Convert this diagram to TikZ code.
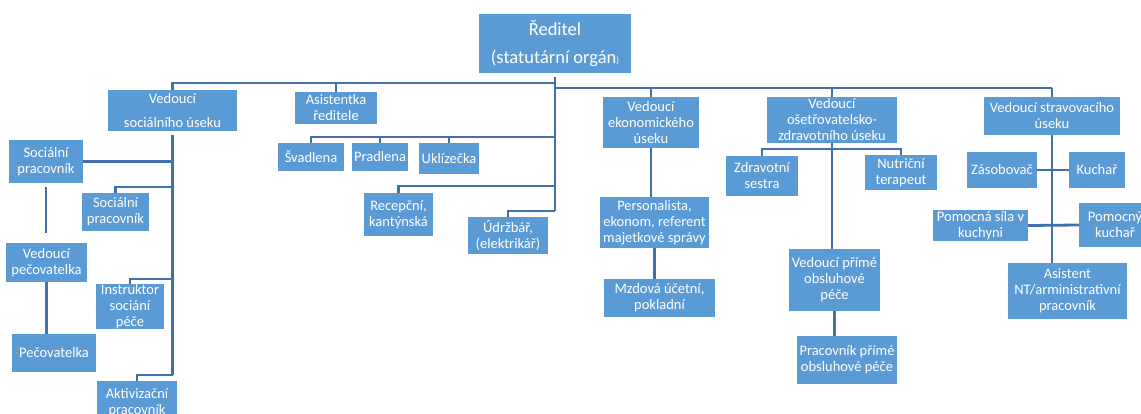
\documentclass[tikz,border=0pt]{standalone}
\usepackage{fontspec}
\setmainfont{Carlito}
\definecolor{boxblue}{RGB}{91,155,213}
\definecolor{lineblue}{RGB}{66,112,172}
\tikzset{
    box/.style={fill=boxblue, text=white, align=center, inner sep=0pt,
        font=\fontsize{14.5}{16}\selectfont},
    conn/.style={draw=lineblue, line width=2.8pt}
}
%% okénko: jméno, levý, horní, pravý, dolní okraj, text
\newcommand{\orgbox}[6]{%
    \pgfmathsetmacro{\bxcx}{(#2+#4)/2}%
    \pgfmathsetmacro{\bxcy}{(#3+#5)/2}%
    \pgfmathsetmacro{\bxw}{#4-#2}%
    \pgfmathsetmacro{\bxh}{#5-#3}%
    \node[box, minimum width=\bxw pt, minimum height=\bxh pt] (#1) at (\bxcx,\bxcy) {#6};%
}
\begin{document}
\begin{tikzpicture}[x=1pt, y=-1pt]
    \useasboundingbox (0,0) rectangle (1141,414);
    %% vedení organizace
    \node[box, minimum width=152pt, minimum height=59pt,
        font=\fontsize{18.5}{22}\selectfont] (red) at (555,43.5)
        {Ředitel\\[6pt](statutární orgán{\fontsize{9}{9}\selectfont)}};
    \orgbox{soc}{108}{90}{237}{131}{Vedoucí\\[8pt]sociálního úseku}
    \orgbox{asis}{295}{92}{377}{124}{Asistentka\\ředitele}
    \orgbox{ekon}{603}{97}{699}{148}{Vedoucí\\ekonomického\\úseku}
    \orgbox{oset}{767}{97}{897}{143}{Vedoucí\\ošetřovatelsko-\\zdravotního úseku}
    \orgbox{strav}{984}{97}{1120}{135}{Vedoucí stravovacího\\úseku}

    %% sociální úsek
    \orgbox{soc1}{9}{140}{83}{183}{Sociální\\pracovník}
    \orgbox{soc2}{82}{193}{149}{231}{Sociální\\pracovník}
    \orgbox{vedpec}{6}{243}{87}{282}{Vedoucí\\pečovatelka}
    \orgbox{instr}{96}{284}{164}{329}{Instruktor\\sociání\\péče}
    \orgbox{pecov}{12}{334}{96}{372}{Pečovatelka}
    \orgbox{aktiv}{97}{381}{177}{425}{Aktivizační\\pracovník}

    %% provoz
    \orgbox{svad}{278}{143}{344}{171}{Švadlena}
    \orgbox{pradl}{352}{143}{408}{171}{Pradlena}
    \orgbox{ukl}{419}{143}{479}{174}{Uklízečka}
    \orgbox{recep}{364}{193}{433}{236}{Recepční,\\kantýnská}
    \orgbox{udrz}{468}{217}{548}{254}{Údržbář,\\(elektrikář)}

    %% ekonomický a ošetřovatelsko-zdravotní úsek
    \orgbox{pers}{600}{197}{709}{248}{Personalista,\\ekonom, referent\\majetkové správy}
    \orgbox{mzd}{604}{279}{715}{317}{Mzdová účetní,\\pokladní}
    \orgbox{zdrav}{726}{156}{798}{196}{Zdravotní\\sestra}
    \orgbox{nutri}{865}{155}{937}{190}{Nutriční\\terapeut}
    \orgbox{vpp}{789}{249}{880}{311}{Vedoucí přímé\\obsluhové\\péče}
    \orgbox{prac}{797}{336}{897}{384}{Pracovník přímé\\obsluhové péče}

    %% stravovací úsek
    \orgbox{zas}{967}{152}{1037}{188}{Zásobovač}
    \orgbox{kuch}{1069}{152}{1125}{188}{Kuchař}
    \orgbox{pomsila}{933}{210}{1028}{241}{Pomocná síla v\\kuchyni}
    \orgbox{pomkuch}{1079}{203}{1151}{247}{Pomocný\\kuchař}
    \orgbox{asnt}{1008}{263}{1127}{319}{Asistent\\NT/arministrativní\\pracovník}

    %% body na sběrnicích
    \coordinate (lbar) at (555,83);
    \coordinate (rbar) at (555,88);
    \coordinate (rbarEnd) at (1052,88);
    \coordinate (tB1) at (555,137);
    \coordinate (tB2) at (555,186);
    \coordinate (tB3) at (555,211);
    \coordinate (sB1) at (172.5,187);
    \coordinate (sB2) at (172.5,279);
    \coordinate (sB3) at (172.5,375);
    \coordinate (oB) at (832,149);

    %% hlavní kmen a sběrnice
    \draw[conn, shorten <=4pt] (red.south) -- (tB3);
    \draw[conn] (lbar) -| (soc.north);
    \draw[conn] (asis.north) -- (asis.north |- lbar);
    \draw[conn] (rbar) -- (rbarEnd);
    \foreach \v in {ekon, oset, strav}
    {
        \draw[conn] (\v.north) -- (\v.north |- rbar);
    }

    %% provoz
    \draw[conn] (tB1) -| (svad.north);
    \draw[conn] (pradl.north) -- (pradl.north |- tB1);
    \draw[conn] (ukl.north) -- (ukl.north |- tB1);
    \draw[conn] (tB2) -| (recep.north);
    \draw[conn] (tB3) -| (udrz.north);

    %% sociální úsek
    \draw[conn, shorten <=4pt] (soc.south) -- (sB3);
    \draw[conn] (soc1.east) -- (soc1.east -| sB1);
    \draw[conn] (sB1) -| (soc2.north);
    \draw[conn] (sB2) -| (instr.north);
    \draw[conn] (sB3) -| (aktiv.north);
    \draw[conn, shorten <=4pt, shorten >=10pt] (soc1.south) -- (soc1.south |- vedpec.north);
    \draw[conn] (vedpec.south) -- (vedpec.south |- pecov.north);

    %% ekonomický úsek
    \draw[conn] (ekon.south) -- (ekon.south |- pers.north);
    \draw[conn] (pers.south) -- (pers.south |- mzd.north);

    %% ošetřovatelsko-zdravotní úsek
    \draw[conn] (zdrav.north) |- (oB) -| (nutri.north);
    \draw[conn] (oset.south) -- (oset.south |- vpp.north);
    \draw[conn] (vpp.south) -- (vpp.south |- prac.north);

    %% stravovací úsek
    \draw[conn] (strav.south) -- (strav.south |- asnt.north);
    \draw[conn] (zas.east) -- (kuch.west);
    \draw[conn] (pomsila.east) -- (pomkuch.west);
\end{tikzpicture}
\end{document}
